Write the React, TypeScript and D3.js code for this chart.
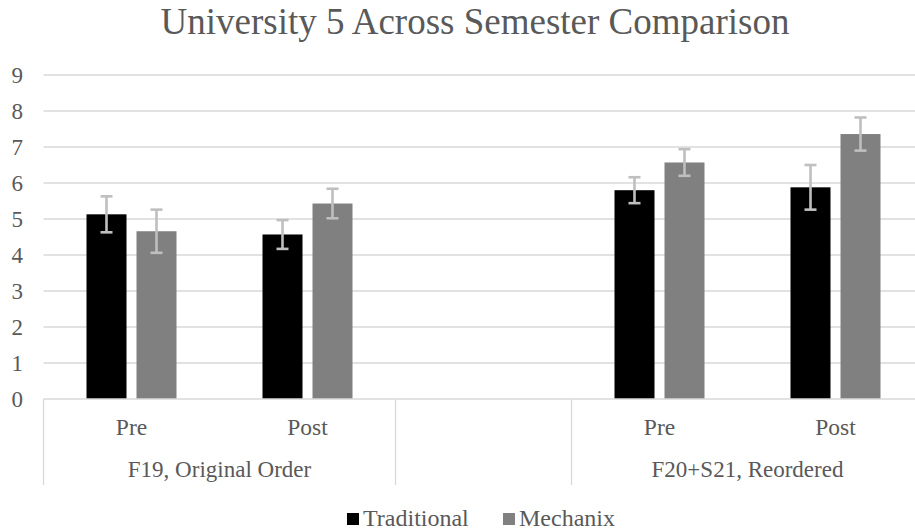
import React from 'react';
import * as d3 from 'd3';

const CATEGORIES = ["c1", "c2", "gap", "c3", "c4"];
const CATEGORY_LABELS = ["Pre", "Post", "", "Pre", "Post"];
const GROUPS = [
    { label: "F19, Original Order", from: "c1", to: "c2" },
    { label: "", from: "gap", to: "gap" },
    { label: "F20+S21, Reordered", from: "c3", to: "c4" }
];
const SERIES = ["Traditional", "Mechanix"];
const TRADITIONAL = [5.13, 4.57, null, 5.80, 5.88];
const MECHANIX = [4.66, 5.43, null, 6.57, 7.36];
const TRADITIONAL_ERR = [0.5, 0.4, null, 0.36, 0.62];
const MECHANIX_ERR = [0.6, 0.41, null, 0.37, 0.46];
const Y_TICKS = [0, 1, 2, 3, 4, 5, 6, 7, 8, 9];

const COLORS: { [key: string]: string } = {
    "Traditional": "#000000",
    "Mechanix": "#808080"
};

const WIDTH = 915;
const HEIGHT = 531;
const TEXT_COLOR = "#595959";
const GRID_COLOR = "#d9d9d9";
const ERR_COLOR = "#bfbfbf";
const FONT = '"Liberation Serif", "Times New Roman", serif';

const plot = { left: 43.5, right: 923.5, top: 75, bottom: 399 };

const xScale = d3.scaleBand<string>()
    .domain(CATEGORIES)
    .range([plot.left, plot.right])
    .paddingInner(0)
    .paddingOuter(0);

// two bars of 40px with a 10px gap inside each 176px category
const xSub = d3.scaleBand<string>()
    .domain(SERIES)
    .range([0, xScale.bandwidth()])
    .paddingInner(0.2)
    .paddingOuter(0.86);

const yScale = d3.scaleLinear()
    .domain([0, 9])
    .range([plot.bottom, plot.top]);

const rows = CATEGORIES.map((c, i) => ({
    cat: c,
    values: [
        { series: "Traditional", value: TRADITIONAL[i], err: TRADITIONAL_ERR[i] },
        { series: "Mechanix", value: MECHANIX[i], err: MECHANIX_ERR[i] }
    ].filter(v => v.value !== null) as { series: string; value: number; err: number }[]
}));

const App: React.FC = () => {
    const bw = xScale.bandwidth();
    const dividers = [plot.left, ...GROUPS.map(g => xScale(g.to)! + bw)];
    const legendX = [347, 503];

    return (
        <div style={{ position: 'absolute', left: 0, top: 0, width: WIDTH, height: HEIGHT, background: '#fff' }}>
            <svg width={WIDTH} height={HEIGHT} style={{ display: 'block' }}>
                <text x={475} y={34} fill={TEXT_COLOR} fontFamily={FONT} fontSize={37} textAnchor="middle">
                    University 5 Across Semester Comparison
                </text>

                {/* gridlines */}
                {Y_TICKS.filter(d => d > 0).map(d => (
                    <line key={d} x1={plot.left} x2={WIDTH} y1={yScale(d)} y2={yScale(d)}
                        stroke={GRID_COLOR} strokeWidth={1.3} />
                ))}

                {/* y tick labels */}
                {Y_TICKS.map(d => (
                    <text key={d} x={23} y={yScale(d)} dy="0.35em" fill={TEXT_COLOR}
                        fontFamily={FONT} fontSize={23} textAnchor="end">{d}</text>
                ))}

                {/* bars + error bars */}
                {rows.map(r => (
                    <g key={r.cat} transform={`translate(${xScale(r.cat)},0)`}>
                        {r.values.map(v => {
                            const cx = xSub(v.series)! + xSub.bandwidth() / 2;
                            const hi = yScale(v.value + v.err);
                            const lo = yScale(v.value - v.err);
                            return (
                                <g key={v.series}>
                                    <rect x={xSub(v.series)} y={yScale(v.value)} width={xSub.bandwidth()}
                                        height={yScale(0) - yScale(v.value)} fill={COLORS[v.series]} />
                                    <line x1={cx} x2={cx} y1={hi} y2={lo} stroke={ERR_COLOR} strokeWidth={2.6} />
                                    <line x1={cx - 6} x2={cx + 6} y1={hi} y2={hi} stroke={ERR_COLOR} strokeWidth={2.6} />
                                    <line x1={cx - 6} x2={cx + 6} y1={lo} y2={lo} stroke={ERR_COLOR} strokeWidth={2.6} />
                                </g>
                            );
                        })}
                    </g>
                ))}

                {/* category axis */}
                <line x1={plot.left} x2={WIDTH} y1={plot.bottom} y2={plot.bottom}
                    stroke={GRID_COLOR} strokeWidth={1.3} />
                {dividers.map((d, i) => (
                    <line key={i} x1={d} x2={d} y1={plot.bottom} y2={485}
                        stroke={GRID_COLOR} strokeWidth={1.3} />
                ))}
                {CATEGORIES.map((c, i) => (
                    <text key={c} x={xScale(c)! + bw / 2} y={435} fill={TEXT_COLOR}
                        fontFamily={FONT} fontSize={23.5} textAnchor="middle">{CATEGORY_LABELS[i]}</text>
                ))}
                {GROUPS.map((g, i) => (
                    <text key={i} x={(xScale(g.from)! + xScale(g.to)! + bw) / 2} y={477} fill={TEXT_COLOR}
                        fontFamily={FONT} fontSize={23} textAnchor="middle">{g.label}</text>
                ))}

                {/* legend */}
                {SERIES.map((s, i) => (
                    <g key={s} transform={`translate(${legendX[i]},513)`}>
                        <rect width={12} height={12} fill={COLORS[s]} />
                        <text x={16} y={13} fill={TEXT_COLOR} fontFamily={FONT} fontSize={24}>{s}</text>
                    </g>
                ))}
            </svg>
        </div>
    );
};

export default App;
